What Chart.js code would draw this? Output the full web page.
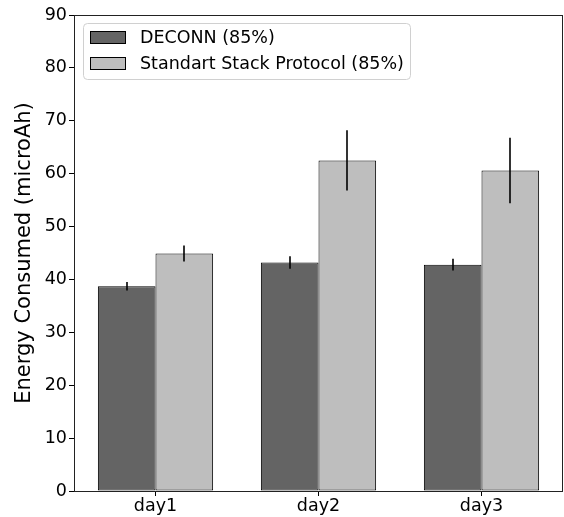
<!DOCTYPE html>
<html>
<head>
<meta charset="utf-8">
<script src="https://cdn.jsdelivr.net/npm/chart.js@4.4.1/dist/chart.umd.min.js"></script>
<style>
  html, body { margin: 0; padding: 0; background: #fff; }
  #wrap { width: 564px; height: 517px; position: relative; }
</style>
</head>
<body>
<div id="wrap"><canvas id="c" width="564" height="517"></canvas></div>
<script>
// ---- data ----
const categories = ["day1", "day2", "day3"];
const seriesNames = ["DECONN (85%)", "Standart Stack Protocol (85%)"];
const deconnValues = [38.7, 43.2, 42.8];
const deconnErrors = [0.8, 1.2, 1.1];
const standardValues = [44.9, 62.5, 60.6];
const standardErrors = [1.5, 5.7, 6.2];
const yTicks = [0, 10, 20, 30, 40, 50, 60, 70, 80, 90];
const yTitle = "Energy Consumed (microAh)";

const FONT = "'DejaVu Sans', sans-serif";
const colors = ["#646464", "#bebebe"];

const errorBarPlugin = {
  id: 'errorBars',
  afterDatasetsDraw(chart) {
    const ctx = chart.ctx;
    const ys = chart.scales.y;
    ctx.save();
    ctx.strokeStyle = '#000';
    ctx.lineWidth = 1.6;
    chart.data.datasets.forEach((ds, i) => {
      const meta = chart.getDatasetMeta(i);
      meta.data.forEach((bar, j) => {
        const v = ds.data[j], e = ds.errors[j];
        const x = Math.round(bar.x);
        ctx.beginPath();
        ctx.moveTo(x, ys.getPixelForValue(v + e));
        ctx.lineTo(x, ys.getPixelForValue(v - e));
        ctx.stroke();
      });
    });
    ctx.restore();
  }
};

const framePlugin = {
  id: 'frame',
  afterDraw(chart) {
    const ctx = chart.ctx;
    const a = chart.chartArea;
    ctx.save();
    ctx.strokeStyle = '#222';
    ctx.lineWidth = 1;
    ctx.strokeRect(Math.round(a.left) + 0.5, Math.round(a.top) + 0.5,
                   Math.round(a.right - a.left) - 1, Math.round(a.bottom - a.top));
    // legend
    const lx = 83.5, ly = 23.5, lw = 327, lh = 56, r = 4;
    ctx.beginPath();
    ctx.moveTo(lx + r, ly);
    ctx.lineTo(lx + lw - r, ly);
    ctx.arcTo(lx + lw, ly, lx + lw, ly + r, r);
    ctx.lineTo(lx + lw, ly + lh - r);
    ctx.arcTo(lx + lw, ly + lh, lx + lw - r, ly + lh, r);
    ctx.lineTo(lx + r, ly + lh);
    ctx.arcTo(lx, ly + lh, lx, ly + lh - r, r);
    ctx.lineTo(lx, ly + r);
    ctx.arcTo(lx, ly, lx + r, ly, r);
    ctx.closePath();
    ctx.fillStyle = 'rgba(255,255,255,0.8)';
    ctx.fill();
    ctx.strokeStyle = '#d0d0d0';
    ctx.stroke();
    chart.data.datasets.forEach((ds, i) => {
      const cy = 37.5 + i * 26;
      ctx.fillStyle = ds.backgroundColor;
      ctx.fillRect(90.5, cy - 6, 35, 12);
      ctx.strokeStyle = '#000';
      ctx.strokeRect(90.5, cy - 6, 35, 12);
      ctx.fillStyle = '#000';
      ctx.font = '17.5px ' + FONT;
      ctx.textBaseline = 'middle';
      ctx.textAlign = 'left';
      ctx.fillText(ds.label, 140, cy + 1);
    });
    ctx.restore();
  }
};

new Chart(document.getElementById('c'), {
  type: 'bar',
  data: {
    labels: categories,
    datasets: [
      { label: seriesNames[0], data: deconnValues, errors: deconnErrors,
        backgroundColor: colors[0], borderColor: '#000', borderWidth: 1, borderSkipped: false },
      { label: seriesNames[1], data: standardValues, errors: standardErrors,
        backgroundColor: colors[1], borderColor: '#000', borderWidth: 1, borderSkipped: false }
    ]
  },
  options: {
    responsive: false,
    animation: false,
    devicePixelRatio: 1,
    layout: { padding: { top: 15, right: 1, bottom: 0, left: 0 } },
    datasets: { bar: { categoryPercentage: 0.707, barPercentage: 1.0 } },
    plugins: { legend: { display: false }, tooltip: { enabled: false } },
    scales: {
      x: {
        offset: true,
        grid: { display: true, offset: false, drawOnChartArea: false, drawTicks: true, tickLength: 5, color: '#000' },
        border: { display: false },
        ticks: { color: '#000', font: { family: FONT, size: 17.5 }, padding: 0, maxRotation: 0 },
        afterFit(s) { s.height = 26; }
      },
      y: {
        min: 0, max: 90,
        afterBuildTicks(s) { s.ticks = yTicks.map(v => ({ value: v })); },
        grid: { display: true, drawOnChartArea: false, drawTicks: true, tickLength: 5, color: '#000' },
        border: { display: false },
        ticks: { color: '#000', font: { family: FONT, size: 17.5 }, padding: 2 },
        title: { display: true, text: yTitle, color: '#000', font: { family: FONT, size: 21 }, padding: { top: 12, bottom: 0 } },
        afterFit(s) { s.width = 74; }
      }
    }
  },
  plugins: [errorBarPlugin, framePlugin]
});
</script>
</body>
</html>
